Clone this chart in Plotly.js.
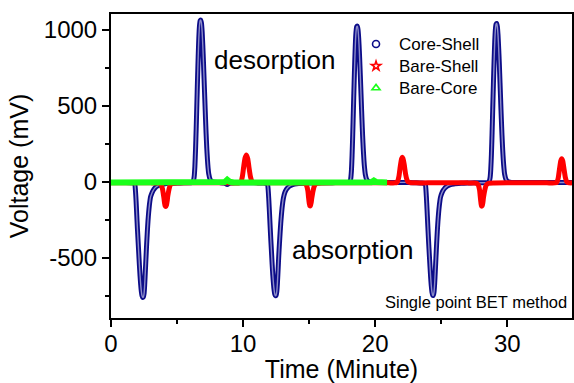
<!DOCTYPE html>
<html>
<head>
<meta charset="utf-8">
<script src="https://cdn.plot.ly/plotly-3.0.1.min.js"></script>
<style>html,body{margin:0;padding:0;background:#fff;}#chart{width:574px;height:383px;}</style>
</head>
<body>
<div id="chart"></div>
<script>
// [time (minute), voltage (mV)]
const coreShell = [
  [0,-6],[0.5,-6],[1,-7],[1.5,-8],[1.7,-10],
  [1.8,-18],[1.85,-60],[1.9,-130],[1.95,-220],[2.0,-310],[2.05,-390],[2.1,-470],[2.15,-550],[2.2,-620],[2.25,-680],[2.3,-725],[2.35,-752],[2.4,-762],[2.45,-760],[2.5,-740],[2.55,-680],[2.6,-590],[2.65,-500],[2.7,-410],[2.75,-330],[2.8,-260],[2.85,-205],[2.9,-160],[2.95,-125],[3.0,-100],[3.1,-75],[3.2,-58],[3.3,-45],[3.4,-36],[3.5,-30],[3.7,-22],[4.0,-16],[4.5,-12],[5,-10],[5.5,-9],[6,-8],
  [6.1,-7],[6.2,-4],[6.25,8],[6.3,35],[6.35,100],[6.4,210],[6.45,350],[6.5,510],[6.55,670],[6.6,820],[6.65,945],[6.7,1025],[6.75,1058],[6.8,1062],[6.85,1040],[6.9,985],[6.95,895],[7.0,785],[7.05,665],[7.1,545],[7.15,425],[7.2,315],[7.25,220],[7.3,145],[7.35,88],[7.4,50],[7.5,15],[7.6,2],[7.8,-5],[8.2,-7],[8.6,-10],[8.8,-20],[9.0,-10],[9.5,-8],[10,-8],[10.5,-8],[11,-9],[11.5,-10],[11.75,-12],
  [11.85,-18],[11.9,-55],[11.95,-125],[12.0,-210],[12.05,-300],[12.1,-385],[12.15,-465],[12.2,-545],[12.25,-615],[12.3,-672],[12.35,-715],[12.4,-742],[12.45,-752],[12.5,-748],[12.55,-725],[12.6,-665],[12.65,-580],[12.7,-490],[12.75,-410],[12.8,-340],[12.85,-275],[12.9,-220],[12.95,-175],[13.0,-138],[13.05,-110],[13.15,-75],[13.25,-56],[13.35,-44],[13.45,-35],[13.55,-29],[13.75,-21],[14.05,-15],[14.5,-12],[15,-10],[15.5,-9],[16,-8],[16.5,-8],[17,-7],[17.5,-7],[17.9,-6],
  [18.0,-5],[18.1,0],[18.15,20],[18.2,70],[18.25,170],[18.3,310],[18.35,470],[18.4,630],[18.45,780],[18.5,905],[18.55,985],[18.6,1018],[18.65,1022],[18.7,1000],[18.75,945],[18.8,860],[18.85,755],[18.9,640],[18.95,520],[19.0,405],[19.05,300],[19.1,210],[19.15,138],[19.2,85],[19.25,48],[19.35,14],[19.45,2],[19.65,-5],[20,-7],[20.5,-7],[21,-7],[21.5,-6],[22,-6],[22.5,-6],[23,-8],[23.5,-10],[23.7,-12],
  [23.8,-20],[23.85,-65],[23.9,-140],[23.95,-230],[24.0,-320],[24.05,-405],[24.1,-485],[24.15,-560],[24.2,-630],[24.25,-688],[24.3,-728],[24.35,-748],[24.4,-750],[24.45,-730],[24.5,-675],[24.55,-590],[24.6,-500],[24.65,-412],[24.7,-332],[24.75,-262],[24.8,-207],[24.85,-162],[24.9,-127],[24.95,-102],[25.05,-76],[25.15,-58],[25.25,-46],[25.35,-37],[25.45,-30],[25.65,-22],[25.95,-16],[26.5,-12],[27,-10],[27.5,-9],[28,-8],[28.5,-7],
  [28.6,-5],[28.65,5],[28.7,25],[28.75,80],[28.8,180],[28.85,320],[28.9,480],[28.95,640],[29.0,790],[29.05,915],[29.1,1000],[29.15,1035],[29.2,1040],[29.25,1018],[29.3,962],[29.35,875],[29.4,770],[29.45,650],[29.5,530],[29.55,412],[29.6,305],[29.65,213],[29.7,140],[29.75,86],[29.8,48],[29.9,14],[30.0,2],[30.2,-5],[30.5,-7],[31,-7],[32,-7],[33,-7],[34,-7],[34.9,-7]
];
const bareShell = [
  [0,-8],[1,-8],[2,-8],[3,-9],[3.5,-10],[3.7,-12],[3.8,-20],[3.9,-50],[4.0,-105],[4.05,-140],[4.1,-160],[4.15,-165],[4.2,-155],[4.25,-130],[4.3,-95],[4.4,-48],[4.5,-22],[4.65,-13],[5,-10],[6,-9],[7,-9],[8,-9],[9,-9],[9.7,-9],
  [9.85,0],[9.95,35],[10.05,100],[10.15,155],[10.25,175],[10.35,150],[10.45,90],[10.55,35],[10.65,5],[10.8,-6],[11.5,-8],[12.5,-9],[13.5,-9],[14.5,-10],
  [14.7,-14],[14.8,-25],[14.9,-60],[14.95,-100],[15.0,-138],[15.05,-160],[15.1,-158],[15.15,-140],[15.2,-110],[15.3,-60],[15.4,-28],[15.55,-14],[16,-10],[17,-9],[18,-9],[19,-9],[20,-9],[21,-9],[21.5,-9],
  [21.6,-8],[21.7,2],[21.8,35],[21.9,100],[22.0,150],[22.05,160],[22.1,152],[22.2,110],[22.3,50],[22.4,12],[22.5,-4],[22.7,-8],[23,-9],[24,-9],[25,-9],[26,-9],[27,-9],[27.5,-10],[27.7,-13],
  [27.8,-22],[27.9,-55],[27.95,-95],[28.0,-135],[28.05,-162],[28.1,-160],[28.15,-140],[28.2,-105],[28.3,-55],[28.4,-25],[28.55,-13],[29,-10],[30,-9],[31,-9],[32,-9],[33,-9],[33.6,-9],
  [33.75,-6],[33.85,20],[33.95,80],[34.05,135],[34.12,150],[34.2,135],[34.3,80],[34.4,25],[34.5,-2],[34.6,-8],[34.9,-9]
];
const bareCore = [
  [0,-6],[1,-6],[2,-7],[3,-7],[4,-8],[4.2,-12],[4.5,-8],[5,-7],[6,-6],[7,-6],[8,-5],[8.6,-4],[8.8,12],[9.0,-2],[9.3,-6],[10,-6],[11,-6],[12,-7],[13,-7],[14,-7],[15,-8],[16,-7],[17,-7],[18,-6],[19,-6],[19.7,-5],[19.9,6],[20.1,-4],[20.5,-5],[20.9,-6]
];
const seriesNames = ['Core-Shell', 'Bare-Shell', 'Bare-Core'];
const xTickVals = [0, 10, 20, 30];
const yTickVals = [-500, 0, 500, 1000];
const labels = ['desorption', 'absorption', 'Single point BET method'];

const FONT = 'Liberation Sans, Arial, sans-serif';
const navy = '#0c0c88', navyCore = '#8c8cc8', red = '#ff0000', green = '#1aff1a';

const xs = a => a.map(p => p[0]);
const ys = a => a.map(p => p[1]);
// legend text at the reference size; the legend font size itself sets the reference row spacing
const legendName = s => '<span style="font-size:17px">' + s + '</span>';

const traces = [
  // Core-Shell: dense open circles, drawn as a dark band with a light core
  {x: xs(coreShell), y: ys(coreShell), mode: 'lines', showlegend: false,
   line: {color: navy, width: 5, shape: 'spline', smoothing: 0.6}},
  {x: xs(coreShell), y: ys(coreShell), mode: 'lines', showlegend: false,
   line: {color: navyCore, width: 1.4, shape: 'spline', smoothing: 0.6}},
  {x: xs(bareShell), y: ys(bareShell), mode: 'lines', showlegend: false,
   line: {color: red, width: 5, shape: 'spline', smoothing: 0.6}},
  {x: xs(bareCore), y: ys(bareCore), mode: 'lines', showlegend: false,
   line: {color: green, width: 6}},
  {x: [null], y: [null], mode: 'markers', name: legendName(seriesNames[0]),
   marker: {symbol: 'circle-open', size: 7, color: navy, line: {width: 1.6, color: navy}}},
  {x: [null], y: [null], mode: 'markers', name: legendName(seriesNames[1]),
   marker: {symbol: 'star-open', size: 7, color: red, line: {width: 1.6, color: red}}},
  {x: [null], y: [null], mode: 'markers', name: legendName(seriesNames[2]),
   marker: {symbol: 'triangle-up-open', size: 7, color: green, line: {width: 1.6, color: green}}}
];

const axisCommon = {
  showline: true, linewidth: 2, linecolor: 'black', mirror: true,
  showgrid: false, zeroline: false, ticks: 'outside', ticklen: 7, tickwidth: 2, tickcolor: 'black',
  tickfont: {family: FONT, size: 24, color: 'black'}
};

const layout = {
  width: 574, height: 383,
  margin: {l: 111, r: 2, t: 14, b: 65},
  paper_bgcolor: 'white', plot_bgcolor: 'white',
  font: {family: FONT, color: 'black'},
  xaxis: Object.assign({}, axisCommon, {
    range: [0, 34.9], tickvals: xTickVals, ticktext: xTickVals.map(String),
    ticklabelstandoff: -4,
    minor: {dtick: 5, tick0: 0, ticks: 'outside', ticklen: 4, tickwidth: 2, tickcolor: 'black'},
    title: {text: 'Time (Minute)', font: {family: FONT, size: 25, color: 'black'}, standoff: 8}
  }),
  yaxis: Object.assign({}, axisCommon, {
    range: [-898, 1102], tickvals: yTickVals, ticktext: yTickVals.map(String),
    minor: {dtick: 250, tick0: 0, ticks: 'outside', ticklen: 4, tickwidth: 2, tickcolor: 'black'},
    title: {text: 'Voltage (mV)', font: {family: FONT, size: 25, color: 'black'}, standoff: 8}
  }),
  legend: {
    x: 0.525, y: 0.954, xanchor: 'left', yanchor: 'top', itemwidth: 36,
    bgcolor: 'rgba(0,0,0,0)', borderwidth: 0,
    font: {family: FONT, size: 14.6, color: 'black'}
  },
  annotations: [
    {x: 12.4, y: 800, xref: 'x', yref: 'y', text: labels[0], showarrow: false,
     font: {family: FONT, size: 26, color: 'black'}},
    {x: 18.25, y: -450, xref: 'x', yref: 'y', text: labels[1], showarrow: false,
     font: {family: FONT, size: 26, color: 'black'}},
    {x: 1, y: 0.053, xref: 'paper', yref: 'paper', xanchor: 'right', yanchor: 'middle', xshift: -3,
     text: labels[2], showarrow: false, font: {family: FONT, size: 16.5, color: 'black'}}
  ]
};

Plotly.newPlot('chart', traces, layout, {staticPlot: true, displayModeBar: false});
</script>
</body>
</html>
